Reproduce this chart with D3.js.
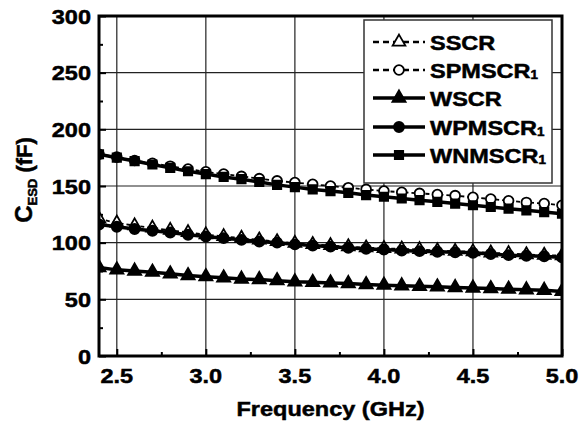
<!DOCTYPE html>
<html>
<head>
<meta charset="utf-8">
<title>CESD vs Frequency</title>
<script src="https://cdn.jsdelivr.net/npm/d3@7"></script>
<style>
    body { margin: 0; background: #fff; }
    text { font-family: "Liberation Sans", Arial, Helvetica, sans-serif; font-weight: bold; fill: #000;
           stroke: #000; stroke-width: 0.5px; }
</style>
</head>
<body>
<script>
    // data
    var freq = [2.4, 2.5, 2.6, 2.7, 2.8, 2.9, 3.0, 3.1, 3.2, 3.3, 3.4, 3.5, 3.6, 3.7,
                3.8, 3.9, 4.0, 4.1, 4.2, 4.3, 4.4, 4.5, 4.6, 4.7, 4.8, 4.9, 5.0];
    var sscr = [121, 117.5, 115, 113, 111, 109, 107, 105.5, 104, 102.5, 101, 99.5, 98.5, 97.5,
                96.5, 95.5, 95, 94.5, 94, 93, 92.5, 92, 91, 90.5, 89.5, 89, 88.5];
    var spmscr = [178, 175.5, 172.5, 170, 167.5, 165, 162.5, 160.5, 158.5, 156.5, 154.5, 153, 151.5, 150,
                  148.5, 147, 145.5, 144.5, 143.5, 142.5, 141.5, 140, 138.5, 137, 135.5, 134.5, 133];
    var wscr = [78, 76, 75, 74, 72.5, 71, 70, 69, 68, 67.5, 66.5, 65.5, 65, 64.5,
                64, 63, 62.5, 62, 61.5, 61, 60.5, 60, 59.5, 59, 58.5, 58, 57];
    var wpmscr = [116, 114, 112, 110.5, 109, 107, 105.5, 104, 102.5, 101, 100, 98.5, 97.5, 96.5,
                  95.5, 94.5, 94, 93, 92.5, 92, 91.5, 91, 90, 89, 88.5, 88, 87];
    var wnmscr = [178, 175, 172, 169, 166, 163, 160.5, 158, 156, 153.5, 151, 149, 147, 145.5,
                  144, 142, 140.5, 139, 137.5, 136, 134.5, 133, 131.5, 130, 128.5, 127, 125.5];

    var xTicks = [2.5, 3.0, 3.5, 4.0, 4.5, 5.0];
    var xMinor = [2.75, 3.25, 3.75, 4.25, 4.75];
    var yTicks = [0, 50, 100, 150, 200, 250, 300];
    var yMinor = [25, 75, 125, 175, 225, 275];

    var seriesNames = ["SSCR", "SPMSCR", "WSCR", "WPMSCR", "WNMSCR"];
    var seriesSub = ["", "1", "", "1", "1"];
    var seriesValues = [sscr, spmscr, wscr, wpmscr, wnmscr];

    var width = 579, height = 426;
    var pLeft = 99, pRight = 562, pTop = 16, pBottom = 356;
    var stretch = 1.12;

    var svg = d3.select("body").append("svg")
        .attr("width", width)
        .attr("height", height);

    var x = d3.scaleLinear().domain([2.4, 5.0]).range([pLeft, pRight]);
    var y = d3.scaleLinear().domain([0, 300]).range([pBottom, pTop]);

    // grid
    svg.append("g").selectAll("line")
        .data(xTicks.filter(function(d){ return d < 5.0; }))
        .enter().append("line")
        .attr("x1", function(d){ return x(d); })
        .attr("x2", function(d){ return x(d); })
        .attr("y1", pTop).attr("y2", pBottom)
        .attr("stroke", "#222").attr("stroke-width", 1.2);
    svg.append("g").selectAll("line")
        .data(yTicks.filter(function(d){ return d > 0 && d < 300; }))
        .enter().append("line")
        .attr("x1", pLeft).attr("x2", pRight)
        .attr("y1", function(d){ return y(d); })
        .attr("y2", function(d){ return y(d); })
        .attr("stroke", "#222").attr("stroke-width", 1.2);

    // inward ticks via axes
    function tickAxis(axis, vals, size, tr) {
        var g = svg.append("g").attr("transform", tr)
            .call(axis.tickValues(vals).tickSize(size).tickFormat(""));
        g.select(".domain").remove();
        g.selectAll("line").attr("stroke", "#000").attr("stroke-width", 2);
    }
    tickAxis(d3.axisBottom(x), xTicks, -7, "translate(0," + pBottom + ")");
    tickAxis(d3.axisBottom(x), xMinor, -4, "translate(0," + pBottom + ")");
    tickAxis(d3.axisLeft(y), yTicks, -7, "translate(" + pLeft + ",0)");
    tickAxis(d3.axisLeft(y), yMinor, -4, "translate(" + pLeft + ",0)");

    // series
    svg.append("clipPath").attr("id", "plotclip")
        .append("rect").attr("x", pLeft).attr("y", pTop)
        .attr("width", pRight - pLeft).attr("height", pBottom - pTop);

    var plot = svg.append("g").attr("clip-path", "url(#plotclip)");

    var line = d3.line()
        .x(function(d){ return x(d[0]); })
        .y(function(d){ return y(d[1]); });

    var symbols = [d3.symbolTriangle, d3.symbolCircle, d3.symbolTriangle, d3.symbolCircle, d3.symbolSquare];
    var symSize = [70, 75, 75, 80, 70];
    var filled = [false, false, true, true, true];
    var dashed = [true, true, false, false, false];

    function markerPath(i) {
        return d3.symbol().type(symbols[i]).size(symSize[i])();
    }

    seriesValues.forEach(function(vals, i) {
        var pts = freq.map(function(f, j){ return [f, vals[j]]; });
        plot.append("path")
            .attr("d", line(pts))
            .attr("fill", "none")
            .attr("stroke", "#000")
            .attr("stroke-width", dashed[i] ? 1.8 : 3.5)
            .attr("stroke-dasharray", dashed[i] ? "4,3" : null);
        plot.append("g").selectAll("path")
            .data(pts)
            .enter().append("path")
            .attr("d", markerPath(i))
            .attr("transform", function(d){ return "translate(" + x(d[0]) + "," + y(d[1]) + ")"; })
            .attr("fill", filled[i] ? "#000" : "#fff")
            .attr("stroke", "#000")
            .attr("stroke-width", 1.8);
    });

    // frame
    svg.append("rect")
        .attr("x", pLeft).attr("y", pTop)
        .attr("width", pRight - pLeft).attr("height", pBottom - pTop)
        .attr("fill", "none").attr("stroke", "#000").attr("stroke-width", 3);

    // tick labels
    svg.append("g").selectAll("text")
        .data(yTicks)
        .enter().append("text")
        .attr("transform", function(d){ return "translate(91," + y(d) + ") scale(" + stretch + ",1)"; })
        .attr("text-anchor", "end")
        .attr("dy", "0.36em")
        .attr("font-size", "21px")
        .text(function(d){ return d; });

    svg.append("g").selectAll("text")
        .data(xTicks)
        .enter().append("text")
        .attr("transform", function(d){ return "translate(" + x(d) + ",383) scale(" + stretch + ",1)"; })
        .attr("text-anchor", "middle")
        .attr("font-size", "21px")
        .text(function(d){ return d3.format(".1f")(d); });

    // axis titles
    svg.append("text")
        .attr("transform", "translate(" + ((pLeft + pRight) / 2) + ",416) scale(" + stretch + ",1)")
        .attr("text-anchor", "middle")
        .attr("font-size", "21px")
        .text("Frequency (GHz)");

    var yt = svg.append("text")
        .attr("transform", "translate(32," + ((pTop + pBottom) / 2 - 6) + ") rotate(-90)")
        .attr("text-anchor", "middle")
        .attr("font-size", "22px");
    yt.append("tspan").attr("font-size", "24px").text("C");
    yt.append("tspan").attr("font-size", "13px").attr("dy", 5).text("ESD");
    yt.append("tspan").attr("dy", -5).text(" (fF)");

    // legend
    var lg = svg.append("g");
    lg.append("rect")
        .attr("x", 364).attr("y", 20)
        .attr("width", 188).attr("height", 163)
        .attr("fill", "#fff").attr("stroke", "#333").attr("stroke-width", 1.5);

    var rowY = [42, 70, 98, 127, 155];
    seriesNames.forEach(function(name, i) {
        var ry = rowY[i];
        lg.append("line")
            .attr("x1", 373).attr("x2", 425)
            .attr("y1", ry).attr("y2", ry)
            .attr("stroke", "#000")
            .attr("stroke-width", dashed[i] ? 2.5 : 3.5)
            .attr("stroke-dasharray", dashed[i] ? "6,4" : null);
        lg.append("path")
            .attr("d", markerPath(i))
            .attr("transform", "translate(399," + ry + ")")
            .attr("fill", filled[i] ? "#000" : "#fff")
            .attr("stroke", "#000")
            .attr("stroke-width", 1.8);
        var t = lg.append("text")
            .attr("transform", "translate(430," + (ry + 7.5) + ") scale(" + stretch + ",1)")
            .attr("font-size", "21px");
        t.append("tspan").text(name);
        if (seriesSub[i]) {
            t.append("tspan").attr("font-size", "12px").attr("dy", 1).text(seriesSub[i]);
        }
    });
</script>
</body>
</html>
